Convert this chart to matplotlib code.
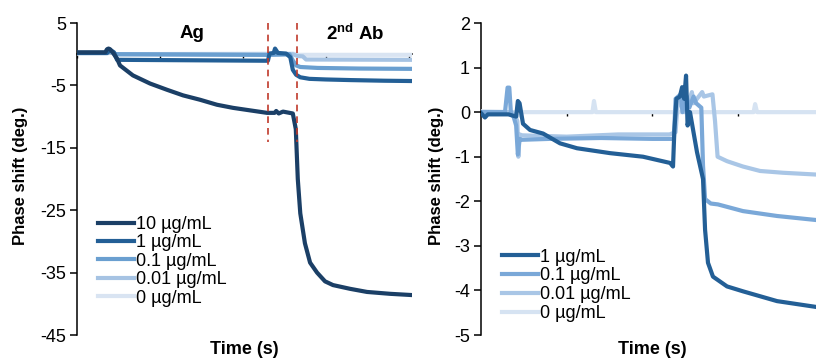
import matplotlib
matplotlib.use("Agg")
import matplotlib.pyplot as plt

plt.rcParams['font.family'] = ['Liberation Sans', 'DejaVu Sans']
plt.rcParams['axes.unicode_minus'] = False
plt.rcParams['mathtext.fontset'] = 'custom'
plt.rcParams['mathtext.rm'] = 'Liberation Sans'
plt.rcParams['mathtext.bf'] = 'Liberation Sans:bold'

# ---- left panel: Ag then 2nd Ab ----
labels_left = ['10 µg/mL', '1 µg/mL', '0.1 µg/mL', '0.01 µg/mL', '0 µg/mL']
colors_left = ['#1b3f66', '#235f96', '#6a9fd0', '#a6c3e3', '#d9e4f2']

t10 = [0, 170, 181, 190, 199, 215, 230, 241, 259, 337, 440, 542, 639, 741, 843, 940, 1042, 1145, 1190, 1200,
       1215, 1241, 1300, 1318, 1330, 1345, 1373, 1404, 1446, 1494, 1542, 1645, 1747, 1886, 2018]
y10 = [0.3, 0.3, 0.8, 0.9, 0.8, 0.3, -0.3, -0.7, -1.8, -3.4, -4.7, -5.7, -6.6, -7.3, -8.1, -8.6, -9.0, -9.4, -9.4, -9.1,
       -9.5, -9.2, -9.5, -12.0, -20.0, -25.5, -30.3, -33.4, -35.0, -36.4, -37.0, -37.6, -38.1, -38.4, -38.6]

t1 = [0, 181, 199, 223, 241, 1150, 1160, 1185, 1193, 1210, 1260, 1285, 1300, 1320, 1345, 1400, 1500, 1650, 1850, 2018]
y1 = [0.2, 0.2, 0.7, 0.3, -0.9, -1.05, 0.1, 0.2, 0.9, 0.2, 0.1, -0.5, -2.5, -3.3, -3.7, -3.95, -4.05, -4.15, -4.25, -4.3]

t01 = [0, 181, 199, 230, 1150, 1280, 1300, 1320, 1345, 1450, 1700, 2018]
y01 = [0.2, 0.2, 0.5, 0.0, -0.1, 0.0, -1.0, -1.8, -2.05, -2.2, -2.3, -2.35]

t001 = [0, 181, 199, 230, 1150, 1300, 1330, 1360, 1380, 2018]
y001 = [0.2, 0.2, 0.4, 0.0, -0.1, 0.0, -0.3, -0.35, -0.85, -0.9]

t0 = [0, 181, 199, 230, 1300, 1330, 2018]
y0 = [0.1, 0.1, 0.3, 0.0, 0.1, -0.1, -0.1]

ag_start, ab_start = 1151, 1328

# ---- right panel ----
labels_right = ['1 µg/mL', '0.1 µg/mL', '0.01 µg/mL', '0 µg/mL']
colors_right = ['#235f96', '#7aa8d8', '#a9c6e6', '#d6e3f2']

r1_t = [0, 23, 40, 160, 205, 215, 225, 245, 286, 362, 461, 560, 753, 945, 1103, 1120, 1128, 1140, 1160, 1173,
        1185, 1196, 1205, 1219, 1260, 1295, 1307, 1324, 1353, 1435, 1528, 1727, 1954]
r1_y = [-0.02, -0.12, -0.05, -0.05, -0.1, 0.25, 0.2, -0.26, -0.4, -0.48, -0.7, -0.81, -0.92, -1.0, -1.14, -1.22, -0.4, 0.3, 0.35, 0.56,
        0.3, 0.82, -0.3, 0.0, -0.9, -1.5, -2.64, -3.38, -3.69, -3.91, -4.02, -4.24, -4.37]

r01_t = [0, 140, 155, 165, 175, 190, 205, 215, 225, 240, 400, 700, 1000, 1125, 1135, 1165, 1175, 1200, 1215, 1240,
         1255, 1285, 1295, 1307, 1340, 1382, 1528, 1727, 1954]
r01_y = [0.0, 0.0, 0.55, 0.55, -0.05, -0.1, -0.3, -0.95, -0.6, -0.62, -0.6, -0.58, -0.6, -0.6, 0.3, 0.4, 0.0, 0.35, 0.1, 0.35,
         0.2, 0.1, -1.2, -1.95, -2.05, -2.07, -2.22, -2.33, -2.42]

r001_t = [0, 180, 200, 212, 218, 225, 240, 500, 800, 1100, 1135, 1145, 1180, 1190, 1230, 1240, 1290, 1300, 1350, 1365,
          1380, 1435, 1528, 1628, 1762, 1954]
r001_y = [0.0, 0.0, -0.1, -0.2, -1.0, -0.5, -0.52, -0.55, -0.5, -0.5, -0.45, 0.1, 0.45, 0.0, 0.45, 0.2, 0.45, 0.35, 0.4, -0.2,
          -1.0, -1.1, -1.22, -1.32, -1.36, -1.4]

r0_t = [0, 200, 220, 240, 560, 650, 659, 670, 1000, 1300, 1590, 1599, 1610, 1954]
r0_y = [0.02, 0.0, -0.08, 0.0, 0.0, 0.0, 0.25, 0.0, 0.0, 0.0, 0.0, 0.18, 0.0, 0.0]

fig = plt.figure(figsize=(8.16, 3.6), dpi=100)
axL = fig.add_axes([77 / 816, 25 / 360, 335 / 816, 312 / 360])
axR = fig.add_axes([481 / 816, 25 / 360, 335 / 816, 312 / 360])


def style_axis(ax, ylim, yticks, xmax):
    ax.set_xlim(0, xmax)
    ax.set_ylim(*ylim)
    ax.set_yticks(yticks)
    ax.set_xticks(range(0, int(xmax) + 1, 500))
    ax.set_xticklabels([])
    for s in ['top', 'right']:
        ax.spines[s].set_visible(False)
    ax.spines['bottom'].set_position(('data', 0))
    ax.spines['left'].set_linewidth(1.1)
    ax.spines['bottom'].set_linewidth(1.1)
    ax.tick_params(axis='y', direction='out', length=5, width=1.1, labelsize=13, pad=3)
    ax.tick_params(axis='x', direction='out', length=3, width=1.0)


lw = 3.0
series_left = [(t10, y10), (t1, y1), (t01, y01), (t001, y001), (t0, y0)]
for (t, y), c, lab in reversed(list(zip(series_left, colors_left, labels_left))):
    axL.plot(t, y, color=c, lw=lw, label=lab, zorder=3)
style_axis(axL, (-45, 5), range(-45, 6, 10), 2018)
for xv in (ag_start, ab_start):
    axL.plot([xv, xv], [5, -14], color='#c0392b', lw=1.2, ls=(0, (4, 3)), zorder=4)
axL.text(693, 3.3, 'Ag', fontsize=13.5, fontweight='bold', ha='center', va='center')
axL.text(1675, 3.3, r'2$^{\mathbf{nd}}$ Ab', fontsize=13.5, fontweight='bold', ha='center', va='center')

h, l = axL.get_legend_handles_labels()
axL.legend(h[::-1], l[::-1], loc='upper left', bbox_to_anchor=(0.04, 0.405), frameon=False, fontsize=13,
           handlelength=2.0, handletextpad=0.1, labelspacing=0.08, borderaxespad=0)

series_right = [(r1_t, r1_y), (r01_t, r01_y), (r001_t, r001_y), (r0_t, r0_y)]
for (t, y), c, lab in reversed(list(zip(series_right, colors_right, labels_right))):
    axR.plot(t, y, color=c, lw=lw, label=lab, zorder=3)
style_axis(axR, (-5, 2), range(-5, 3), 1954)
h, l = axR.get_legend_handles_labels()
axR.legend(h[::-1], l[::-1], loc='upper left', bbox_to_anchor=(0.04, 0.30), frameon=False, fontsize=13,
           handlelength=2.0, handletextpad=0.1, labelspacing=0.1, borderaxespad=0)

for xc in (21 / 816, 437 / 816):
    fig.text(xc, 1 - 176 / 360, 'Phase shift (deg.)', rotation=90, fontsize=12, fontweight='bold',
             ha='center', va='center')
fig.text(244 / 816, 10 / 360, 'Time (s)', fontsize=13, fontweight='bold', ha='center', va='center')
fig.text(652 / 816, 10 / 360, 'Time (s)', fontsize=13, fontweight='bold', ha='center', va='center')

fig.savefig('out.png', dpi=100)
